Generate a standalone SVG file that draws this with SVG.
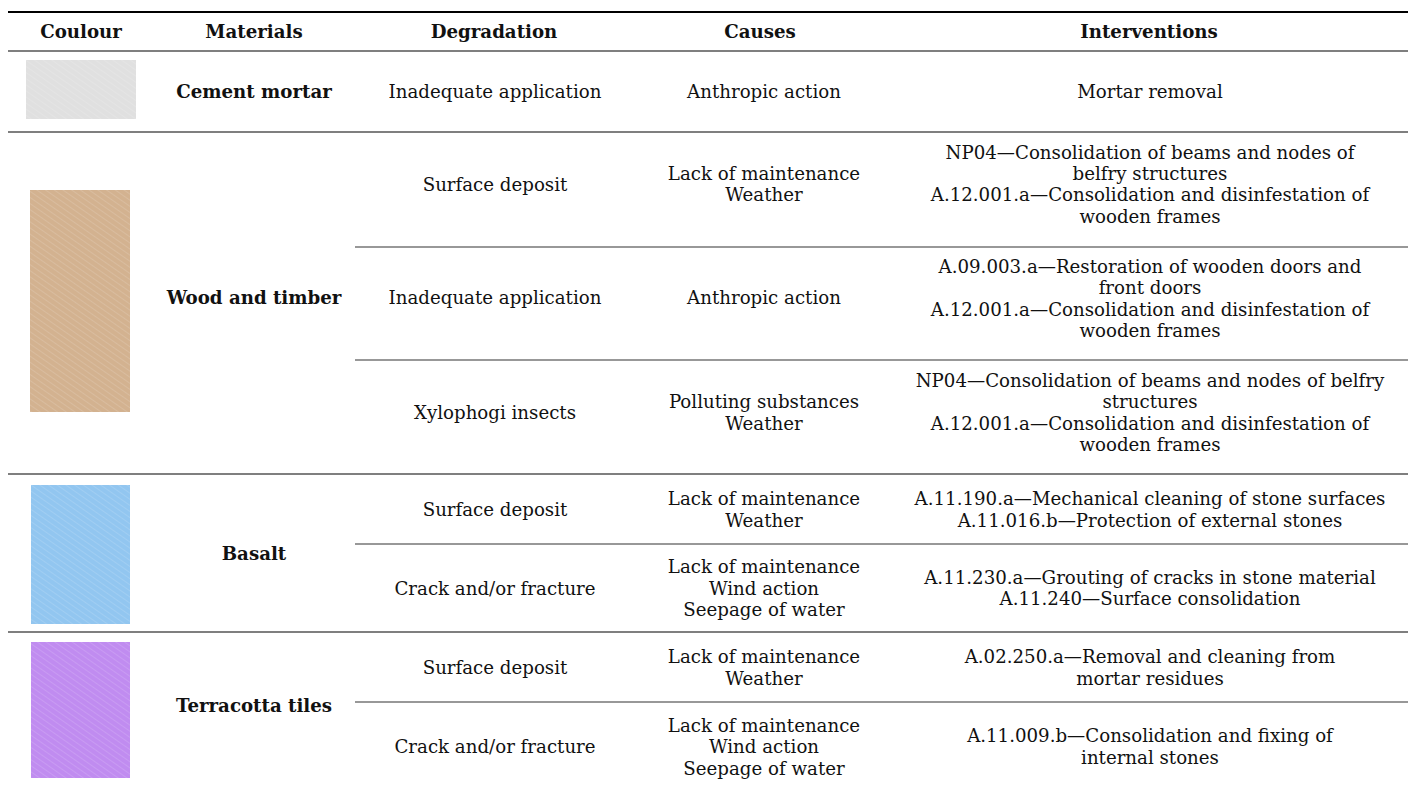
<svg xmlns="http://www.w3.org/2000/svg" width="1408" height="787" viewBox="0 0 1408 787">
<style>
text{font-family:"DejaVu Serif","Liberation Serif",serif;font-size:18.2px;fill:#111;text-anchor:middle}
.b{font-weight:bold}
.full{stroke:#555;stroke-width:1.5}
.part{stroke:#333;stroke-width:1.2}
</style>
<defs>
<pattern id="st" width="5" height="5" patternUnits="userSpaceOnUse" patternTransform="rotate(-55)">
<rect width="5" height="5" fill="none"/>
<line x1="0" y1="0" x2="0" y2="5" stroke="#fff" stroke-opacity="0.22" stroke-width="1.2"/>
</pattern>
</defs>
<rect width="1408" height="787" fill="#fff"/>
<g id="rules">
<line x1="8" y1="12" x2="1408" y2="12" stroke="#000" stroke-width="2.2"/>
<line class="full" x1="8" y1="51" x2="1408" y2="51"/>
<line class="full" x1="8" y1="132" x2="1408" y2="132"/>
<line class="part" x1="355" y1="247" x2="1408" y2="247"/>
<line class="part" x1="355" y1="360" x2="1408" y2="360"/>
<line class="full" x1="8" y1="474" x2="1408" y2="474"/>
<line class="part" x1="355" y1="544" x2="1408" y2="544"/>
<line class="full" x1="8" y1="632" x2="1408" y2="632"/>
<line class="part" x1="355" y1="702" x2="1408" y2="702"/>
</g>
<g transform="translate(0,1)">
<g id="header">
<text class="b" x="81" y="37">Coulour</text>
<text class="b" x="254" y="37">Materials</text>
<text class="b" x="494" y="37">Degradation</text>
<text class="b" x="760" y="37">Causes</text>
<text class="b" x="1149" y="37">Interventions</text>
</g>
<g id="cement">
<text class="b" x="254" y="97">Cement mortar</text>
<text x="495" y="97">Inadequate application</text>
<text x="764" y="97">Anthropic action</text>
<text x="1150" y="97">Mortar removal</text>
</g>
<g id="wood">
<text class="b" x="254" y="303">Wood and timber</text>
<text x="495" y="190">Surface deposit</text>
<text x="764" y="179">Lack of maintenance</text>
<text x="764" y="200">Weather</text>
<text x="1150" y="158">NP04—Consolidation of beams and nodes of</text>
<text x="1150" y="179">belfry structures</text>
<text x="1150" y="200">A.12.001.a—Consolidation and disinfestation of</text>
<text x="1150" y="222">wooden frames</text>
<text x="495" y="303">Inadequate application</text>
<text x="764" y="303">Anthropic action</text>
<text x="1150" y="272">A.09.003.a—Restoration of wooden doors and</text>
<text x="1150" y="293">front doors</text>
<text x="1150" y="315">A.12.001.a—Consolidation and disinfestation of</text>
<text x="1150" y="336">wooden frames</text>
<text x="495" y="418">Xylophogi insects</text>
<text x="764" y="407">Polluting substances</text>
<text x="764" y="429">Weather</text>
<text x="1150" y="386">NP04—Consolidation of beams and nodes of belfry</text>
<text x="1150" y="407">structures</text>
<text x="1150" y="429">A.12.001.a—Consolidation and disinfestation of</text>
<text x="1150" y="450">wooden frames</text>
</g>
<g id="basalt">
<text class="b" x="254" y="559">Basalt</text>
<text x="495" y="515">Surface deposit</text>
<text x="764" y="504">Lack of maintenance</text>
<text x="764" y="526">Weather</text>
<text x="1150" y="504">A.11.190.a—Mechanical cleaning of stone surfaces</text>
<text x="1150" y="526">A.11.016.b—Protection of external stones</text>
<text x="495" y="594">Crack and/or fracture</text>
<text x="764" y="572">Lack of maintenance</text>
<text x="764" y="594">Wind action</text>
<text x="764" y="615">Seepage of water</text>
<text x="1150" y="583">A.11.230.a—Grouting of cracks in stone material</text>
<text x="1150" y="604">A.11.240—Surface consolidation</text>
</g>
<g id="terracotta">
<text class="b" x="254" y="711">Terracotta tiles</text>
<text x="495" y="673">Surface deposit</text>
<text x="764" y="662">Lack of maintenance</text>
<text x="764" y="684">Weather</text>
<text x="1150" y="662">A.02.250.a—Removal and cleaning from</text>
<text x="1150" y="684">mortar residues</text>
<text x="495" y="752">Crack and/or fracture</text>
<text x="764" y="731">Lack of maintenance</text>
<text x="764" y="752">Wind action</text>
<text x="764" y="774">Seepage of water</text>
<text x="1150" y="741">A.11.009.b—Consolidation and fixing of</text>
<text x="1150" y="763">internal stones</text>
</g>
</g>
<g id="swatches">
<rect x="26" y="60" width="110" height="59" fill="#e0e0e0"/>
<rect x="26" y="60" width="110" height="59" fill="url(#st)"/>
<rect x="30" y="190" width="100" height="222" fill="#d3b290"/>
<rect x="30" y="190" width="100" height="222" fill="url(#st)"/>
<rect x="31" y="485" width="99" height="139" fill="#92c6f0"/>
<rect x="31" y="485" width="99" height="139" fill="url(#st)"/>
<rect x="31" y="642" width="99" height="136" fill="#c08cf0"/>
<rect x="31" y="642" width="99" height="136" fill="url(#st)"/>
</g>
</svg>
